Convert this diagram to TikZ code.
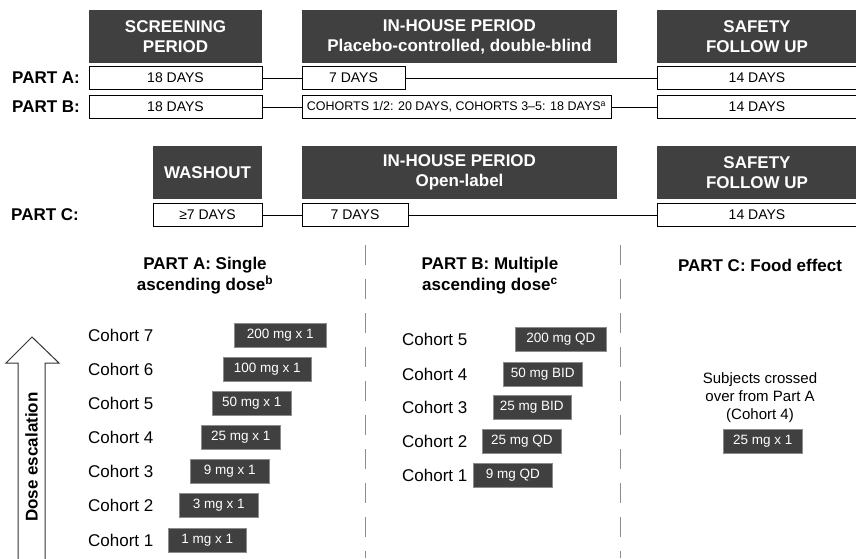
\documentclass[tikz,border=0pt]{standalone}
\usepackage{fontspec}
\setmainfont{Liberation Sans}
\usepackage{tikz}
\usetikzlibrary{positioning}
\usepackage{xcolor}
\definecolor{boxGray}{HTML}{404040}
\definecolor{rimGray}{HTML}{8C8C8C}

\tikzset{
  period/.style={fill=boxGray, text=white, align=center, inner sep=0pt,
                 minimum height=53pt, font=\fontsize{17}{20}\selectfont\bfseries},
  days/.style={draw=black, line width=0.8pt, fill=white, inner sep=0pt,
               minimum height=23pt, font=\fontsize{14}{16}\selectfont},
  dose/.style={fill=boxGray, draw=rimGray, line width=0.6pt, text=white, anchor=west,
               inner sep=0pt, minimum height=24pt, font=\fontsize{13.5}{16}\selectfont},
  partlbl/.style={anchor=west, inner sep=0pt, font=\fontsize{17}{20}\selectfont\bfseries},
  cohort/.style={anchor=west, inner sep=0pt, font=\fontsize{17}{20}\selectfont},
  armtitle/.style={align=center, font=\fontsize{17}{21}\selectfont\bfseries},
  link/.style={line width=0.8pt},
  divider/.style={draw=rimGray, line width=1pt, dash pattern=on 20pt off 14pt}
}

\begin{document}
\begin{tikzpicture}[x=1pt, y=-1pt]
  \useasboundingbox (0,0) rectangle (856,558);

  % Parts A and B
  \node[period, minimum width=173pt] (scrHead) at (175.5,36.5) {SCREENING\\PERIOD};
  \node[period, minimum width=315pt] (inHeadAB) at (459.5,36.5)
    {IN-HOUSE PERIOD\\Placebo-controlled, double-blind};
  \node[period, minimum width=200pt] (safHeadAB) at (757,36.5) {SAFETY\\FOLLOW UP};

  \node[partlbl] (lblA) at (12,78) {PART A:};
  \node[days, minimum width=173pt] (scrA) at (175.5,78) {18 DAYS};
  \node[days, minimum width=103pt] (inA) at (353.5,78) {7 DAYS};
  \node[days, minimum width=200pt] (folA) at (757,78) {14 DAYS};
  \draw[link] (scrA) -- (inA);
  \draw[link] (inA) -- (folA);

  \node[partlbl] (lblB) at (12,107) {PART B:};
  \node[days, minimum width=173pt] (scrB) at (175.5,107) {18 DAYS};
  \node[days, minimum width=309pt, font=\fontsize{12.5}{14}\selectfont] (inB) at (456.5,107)
    {COHORTS 1/2: 20 DAYS, COHORTS 3--5: 18 DAYS\textsuperscript{a}};
  \node[days, minimum width=200pt] (folB) at (757,107) {14 DAYS};
  \draw[link] (scrB) -- (inB);
  \draw[link] (inB) -- (folB);

  % Part C
  \node[period, minimum width=109pt] (washHead) at (207.5,172.5) {WASHOUT};
  \node[period, minimum width=315pt] (inHeadC) at (459.5,172.5) {IN-HOUSE PERIOD\\Open-label};
  \node[period, minimum width=200pt] (safHeadC) at (757,172.5) {SAFETY\\FOLLOW UP};

  \node[partlbl] (lblC) at (11,215) {PART C:};
  \node[days, minimum width=109pt] (washC) at (207.5,215) {≥7 DAYS};
  \node[days, minimum width=106pt] (inC) at (355,215) {7 DAYS};
  \node[days, minimum width=200pt] (folC) at (757,215) {14 DAYS};
  \draw[link] (washC) -- (inC);
  \draw[link] (inC) -- (folC);

  % dose escalation
  \draw[divider] (365,245) -- (365,558);
  \draw[divider] (620,245) -- (620,558);
  \draw[line width=1pt, draw=black!80, fill=white]
    (18,562) -- (18,363) -- (6,363) -- (32,337) -- (59,363) -- (45,363) -- (45,562);
  \node[rotate=90, font=\fontsize{17}{20}\selectfont\bfseries] (doseEsc) at (31.5,457) {Dose escalation};

  \node[armtitle] (titleA) at (205,276) {PART A: Single\\ascending dose\textsuperscript{b}};
  \foreach \n/\xl/\w/\y/\d in {7/234/92/335/200 mg x 1, 6/223/88/369/100 mg x 1,
      5/212/79/403/50 mg x 1, 4/201/79/437.5/25 mg x 1, 3/190/79/471.5/9 mg x 1,
      2/179/79/505.5/3 mg x 1, 1/168/78/540.5/1 mg x 1}{
    \node[cohort] (cohA\n) at (88,\y) {Cohort \n};
    \node[dose, minimum width=\w pt] (doseA\n) at (\xl,\y) {\d};
  }

  \node[armtitle] (titleB) at (490,276) {PART B: Multiple\\ascending dose\textsuperscript{c}};
  \foreach \n/\xl/\w/\y/\d in {5/515/91/339/200 mg QD, 4/503/79/374.5/50 mg BID,
      3/492.5/78/407.5/25 mg BID, 2/482/79/441.5/25 mg QD, 1/473/79/475.5/9 mg QD}{
    \node[cohort] (cohB\n) at (402,\y) {Cohort \n};
    \node[dose, minimum width=\w pt] (doseB\n) at (\xl,\y) {\d};
  }

  \node[armtitle] (titleC) at (760,265) {PART C: Food effect};
  \node[align=center, font=\fontsize{15}{18}\selectfont] (crossC) at (760,398)
    {Subjects crossed\\over from Part A\\(Cohort 4)};
  \node[dose, minimum width=79pt] (doseC) at (723,441.5) {25 mg x 1};
\end{tikzpicture}
\end{document}
